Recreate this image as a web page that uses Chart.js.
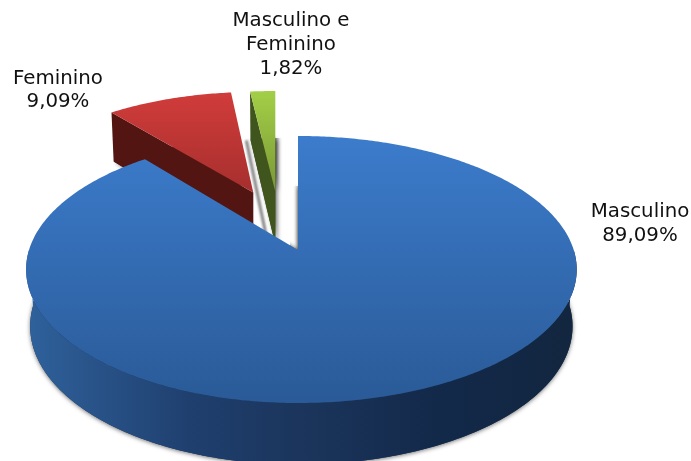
<!DOCTYPE html>
<html><head><meta charset="utf-8">
<style>html,body{margin:0;padding:0;background:#fff}canvas{display:block}</style>
<script src="https://cdn.jsdelivr.net/npm/chart.js@4"></script>
</head><body>
<canvas id="c" width="691" height="461"></canvas>
<script>
const categories = ["Masculino", "Feminino", "Masculino e Feminino"];
const values = [89.09, 9.09, 1.82];
const percentLabels = ["89,09%", "9,09%", "1,82%"];

// view of the 3D pie (projection of the unit circle on to the page)
const view = {y0:250, a:269, b:130.65, k:0.146, rightGain:1.025, lowScale:0.985, depth0:56, depthV:5.5};
const sliceView = [
  {x:298,   v:0,     lean:0,  top:["#3c7ccc","#2a5a97"], topY:[136,403], halo:{x:290,y:186,w:10,dx:0}},
  {x:253.3, v:-0.47, lean:-3, top:["#d03c3a","#a62f2e"], topY:[93,192], wall:"#521512", streak:15},
  {x:275.3, v:-0.48, lean:0,  top:["#a3cf47","#7c9a37"], topY:[91,188], wall:"#40541d", halo:{x:262,y:138,w:24,dx:2}}
];
const labelView = [
  {x:640, y:[212,236]},
  {x:58,  y:[79,102]},
  {x:291, y:[21,45,69]}
];
const labelLines = [["Masculino"],["Feminino"],["Masculino e","Feminino"]];

function pt(s, ang, r){
  const u = Math.cos(ang)*r, vl = Math.sin(ang)*r, v = vl + s.v, w = 1 - view.k*v;
  return {x: s.x + s.lean*vl + view.a*u/w*(u>0?view.rightGain:1), y: view.y0 + view.b*v/w, v, s};
}
function low(p){
  return {x: p.s.x + (p.x-p.s.x)*view.lowScale, y: p.y + view.depth0 + view.depthV*p.v};
}
function rim(s, a0, a1){
  const n = Math.max(2, Math.ceil(Math.abs(a1-a0)/0.012)), out=[];
  for(let i=0;i<=n;i++) out.push(pt(s, a0+(a1-a0)*i/n, 1));
  return out;
}
function poly(ctx, pts){
  ctx.beginPath();
  pts.forEach((p,i)=> i?ctx.lineTo(p.x,p.y):ctx.moveTo(p.x,p.y));
  ctx.closePath();
}

const pie3d = {
  id:"pie3d",
  afterDatasetsDraw(chart){
    const ctx = chart.ctx, arcs = chart.getDatasetMeta(0).data;
    [1,2,0].forEach(i=>{
      const s = sliceView[i], A0 = arcs[i].startAngle, A1 = arcs[i].endAngle;
      const apex = pt(s, 0, 0), edge = rim(s, A0, A1);
      const sector = [apex, ...edge];
      // cast shadow on the ground
      if(s.halo){
        ctx.save();
        ctx.beginPath(); ctx.rect(s.halo.x, s.halo.y, s.halo.w, 461); ctx.clip();
        ctx.shadowColor = "rgba(0,0,0,0.6)"; ctx.shadowBlur = 4;
        ctx.shadowOffsetX = s.halo.dx;
        ctx.fillStyle = "#888";
        poly(ctx, sector); ctx.fill();
        ctx.restore();
      }
      if(s.streak){
        const p0 = low(edge[edge.length-1]), p1 = low(apex);
        ctx.save();
        ctx.filter = "blur(1.2px)";
        ctx.strokeStyle = "rgba(90,90,90,0.75)"; ctx.lineWidth = 3;
        ctx.beginPath();
        ctx.moveTo(p0.x+s.streak,p0.y); ctx.lineTo(p1.x+s.streak,p1.y);
        ctx.stroke();
        ctx.restore();
      }
      // soft shadow of the underside
      ctx.save();
      ctx.shadowColor = "rgba(0,0,0,0.55)"; ctx.shadowBlur = 4;
      ctx.shadowOffsetX = i===0?0:2; ctx.shadowOffsetY = 1;
      ctx.fillStyle = i===0?"#1a3558":s.wall;
      poly(ctx, sector.map(low)); ctx.fill();
      ctx.restore();
      // walls
      if(i===0){
        const front = rim(s, Math.max(A0,0), Math.min(A1,Math.PI));
        const g = ctx.createLinearGradient(28,0,574,0);
        g.addColorStop(0,"#2f619b"); g.addColorStop(0.3,"#1f3f6e");
        g.addColorStop(0.5,"#1b355c"); g.addColorStop(0.75,"#13294a"); g.addColorStop(1,"#12263f");
        ctx.fillStyle = g;
        poly(ctx, [...front, ...front.slice().reverse().map(low)]); ctx.fill();
      } else {
        const e0 = edge[0];
        ctx.fillStyle = s.wall;
        poly(ctx, [e0, apex, low(apex), low(e0)]); ctx.fill();
      }
      // top face
      const g = ctx.createLinearGradient(0,s.topY[0],0,s.topY[1]);
      g.addColorStop(0,s.top[0]); g.addColorStop(1,s.top[1]);
      ctx.fillStyle = g;
      poly(ctx, sector); ctx.fill();
    });
    ctx.save();
    ctx.fillStyle = "#111"; ctx.textAlign = "center"; ctx.textBaseline = "middle";
    ctx.font = '19.8px "DejaVu Sans"';
    categories.forEach((_,i)=>{
      const lines = [...labelLines[i], percentLabels[i]];
      lines.forEach((t,j)=> ctx.fillText(t, labelView[i].x, labelView[i].y[j]));
    });
    ctx.restore();
  }
};

new Chart(document.getElementById("c"),{
  type:"pie",
  data:{labels:categories,datasets:[{data:values,backgroundColor:"rgba(0,0,0,0)",borderWidth:0}]},
  options:{responsive:false,animation:false,rotation:0,circumference:360,
    plugins:{legend:{display:false},tooltip:{enabled:false}}},
  plugins:[pie3d]
});
</script>
</body></html>
